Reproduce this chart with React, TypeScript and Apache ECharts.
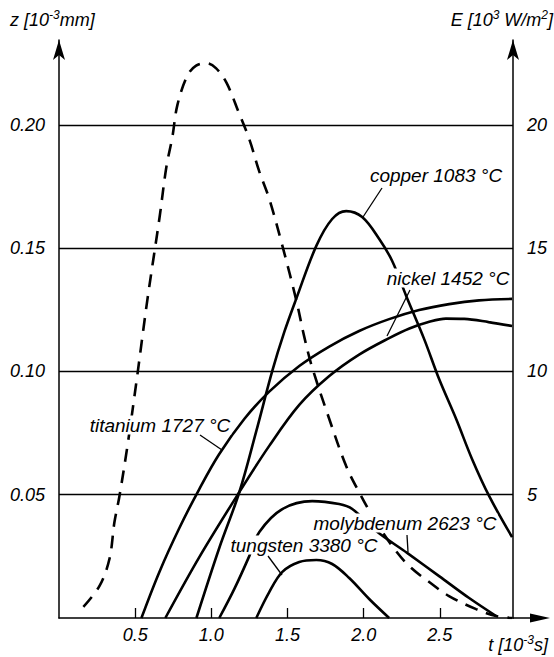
import React, { useEffect, useRef } from "react";
import * as echarts from "echarts";

// Axis ticks
const xTicks = [0.5, 1.0, 1.5, 2.0, 2.5];
const zTicks = [0.05, 0.1, 0.15, 0.2];
const eTicks = [5, 10, 15, 20];
const X_MAX = 2.98;
const Z_MAX = 0.2344;
const E_MAX = 23.44;

// Heat flux E [10^3 W/m^2] (dashed)
const fluxT = [0.16, 0.266, 0.331, 0.364, 0.397, 0.449, 0.508, 0.58, 0.659, 0.705, 0.744, 0.777, 0.843, 0.9, 0.967, 1.03, 1.1, 1.18, 1.25, 1.315, 1.38, 1.466, 1.557, 1.61, 1.66, 1.774, 1.885, 1.97, 2.069, 2.187, 2.298, 2.43, 2.56, 2.738, 2.869, 2.974];
const fluxE = [0.45, 1.3, 2.39, 3.89, 4.95, 6.97, 9.57, 12.9, 16.2, 18.3, 19.5, 20.8, 22.0, 22.4, 22.5, 22.3, 21.7, 20.5, 19.4, 18.1, 17.0, 15.1, 12.9, 11.4, 10.2, 8.07, 6.16, 5.1, 4.01, 2.92, 2.11, 1.46, 0.89, 0.36, 0.08, 0];

// Melt depth z [10^-3 mm]
const titaniumT = [0.541, 0.659, 0.79, 0.921, 1.052, 1.216, 1.38, 1.577, 1.774, 1.97, 2.167, 2.364, 2.561, 2.757, 2.974];
const titaniumZ = [0, 0.0187, 0.0365, 0.0523, 0.0665, 0.0807, 0.0918, 0.1022, 0.1101, 0.1164, 0.1212, 0.1249, 0.1273, 0.1288, 0.1294];

const nickelT = [0.698, 0.921, 1.184, 1.38, 1.577, 1.774, 1.97, 2.167, 2.3, 2.42, 2.54, 2.66, 2.82, 2.974];
const nickelZ = [0, 0.0247, 0.0511, 0.0698, 0.0864, 0.0981, 0.1068, 0.1135, 0.1174, 0.1199, 0.1214, 0.1213, 0.12, 0.1184];

const copperT = [0.902, 1.052, 1.184, 1.295, 1.4, 1.479, 1.557, 1.689, 1.793, 1.885, 1.99, 2.102, 2.187, 2.279, 2.397, 2.495, 2.607, 2.711, 2.823, 2.974];
const copperZ = [0, 0.0284, 0.0511, 0.0758, 0.1002, 0.116, 0.1294, 0.1509, 0.1618, 0.165, 0.1626, 0.1537, 0.1448, 0.1306, 0.1131, 0.0969, 0.0807, 0.0645, 0.0495, 0.0328];

const molybdenumT = [1.052, 1.151, 1.249, 1.315, 1.466, 1.662, 1.839, 1.925, 2.082, 2.285, 2.495, 2.692, 2.869];
const molybdenumZ = [0, 0.0118, 0.0251, 0.0349, 0.0442, 0.0474, 0.0462, 0.0442, 0.0353, 0.0264, 0.017, 0.0081, 0.0008];

const tungstenT = [1.295, 1.38, 1.466, 1.577, 1.689, 1.793, 1.905, 2.036, 2.167];
const tungstenZ = [0, 0.0105, 0.0187, 0.0227, 0.0235, 0.0219, 0.0162, 0.0077, 0];

const curveLabels = ["copper 1083 °C", "nickel 1452 °C", "titanium 1727 °C", "tungsten 3380 °C", "molybdenum 2623 °C"];

const zip = (a: number[], b: number[]) => a.map((v, i) => [v, b[i]]);

const FONT = "'Liberation Sans', Arial, sans-serif";

export default function App() {
  const ref = useRef<HTMLDivElement>(null);
  useEffect(() => {
    document.body.style.margin = "0";
    if (!ref.current) return;
    const chart = echarts.init(ref.current, undefined, { renderer: "svg" });
    const solid = (name: string, data: number[][], extra: any = {}) => ({
      name,
      type: "line",
      data,
      smooth: 0.35,
      symbol: "none",
      yAxisIndex: 0,
      lineStyle: { color: "#000", width: 2.6 },
      z: 3,
      ...extra,
    });
    const textStyle = { fontFamily: FONT, fontStyle: "italic", fontSize: 19, fill: "#000" };
    const label = (text: string, x: number, y: number) => ({
      type: "text",
      x,
      y,
      z: 100,
      style: {
        ...textStyle,
        text,
        align: "center",
        verticalAlign: "middle",
        backgroundColor: "#fff",
        padding: [0, 1],
        lineHeight: 19,
      },
    });
    const leader = (x1: number, y1: number, x2: number, y2: number) => ({
      type: "line",
      z: 101,
      shape: { x1, y1, x2, y2 },
      style: { stroke: "#000", lineWidth: 1.3 },
    });
    const axisName = (text: string, x: number, y: number, align: string) => ({
      type: "text",
      x,
      y,
      z: 100,
      style: {
        text,
        align,
        verticalAlign: "middle",
        rich: {
          a: { fontFamily: FONT, fontStyle: "italic", fontSize: 18, lineHeight: 22, fill: "#000", color: "#000" },
          s: { fontFamily: FONT, fontStyle: "italic", fontSize: 12, lineHeight: 10, verticalAlign: "top", fill: "#000", color: "#000" },
        },
      },
    });
    const axisLabelStyle = { fontFamily: FONT, fontStyle: "italic", fontSize: 18, color: "#000" };
    chart.setOption({
      animation: false,
      backgroundColor: "#fff",
      grid: { left: 59, right: 41, top: 40, bottom: 39 },
      xAxis: {
        type: "value",
        min: 0,
        max: X_MAX,
        interval: 0.5,
        axisLine: { show: true, lineStyle: { color: "#000", width: 1.5 } },
        axisTick: { show: true, inside: true, length: 10, lineStyle: { color: "#000", width: 1.3 } },
        axisLabel: {
          ...axisLabelStyle,
          margin: 8,
          showMinLabel: false,
          showMaxLabel: false,
          formatter: (v: number) => (xTicks.some((t) => Math.abs(t - v) < 1e-6) ? v.toFixed(1) : ""),
        },
        splitLine: { show: false },
      },
      yAxis: [
        {
          type: "value",
          min: 0,
          max: Z_MAX,
          interval: 0.05,
          position: "left",
          axisLine: { show: true, symbol: ["none", "arrow"], symbolSize: [9, 20], lineStyle: { color: "#000", width: 1.5 } },
          axisTick: { show: false },
          axisLabel: {
            ...axisLabelStyle,
            margin: 14,
            showMinLabel: false,
            showMaxLabel: false,
            formatter: (v: number) => (zTicks.some((t) => Math.abs(t - v) < 1e-6) ? v.toFixed(2) : ""),
          },
          splitLine: { show: false },
        },
        {
          type: "value",
          min: 0,
          max: E_MAX,
          interval: 5,
          position: "right",
          axisLine: { show: true, symbol: ["none", "arrow"], symbolSize: [9, 20], lineStyle: { color: "#000", width: 1.5 } },
          axisTick: { show: false },
          axisLabel: {
            ...axisLabelStyle,
            margin: 14,
            showMinLabel: false,
            showMaxLabel: false,
            formatter: (v: number) => (eTicks.some((t) => Math.abs(t - v) < 1e-6) ? String(v) : ""),
          },
          splitLine: { show: false },
        },
      ],
      series: [
        {
          name: "grid",
          type: "line",
          data: [],
          symbol: "none",
          markLine: {
            silent: true,
            symbol: "none",
            label: { show: false },
            lineStyle: { color: "#000", width: 1.4, type: "solid" },
            data: zTicks.map((v) => [{ coord: [0, v] }, { coord: [X_MAX, v] }]),
          },
        },
        {
          name: "E",
          type: "line",
          yAxisIndex: 1,
          data: zip(fluxT, fluxE),
          smooth: 0.35,
          symbol: "none",
          lineStyle: { color: "#000", width: 2.6, type: [13, 9] },
          z: 3,
        },
        solid("titanium", zip(titaniumT, titaniumZ)),
        solid("nickel", zip(nickelT, nickelZ)),
        solid("copper", zip(copperT, copperZ)),
        solid("molybdenum", zip(molybdenumT, molybdenumZ)),
        solid("tungsten", zip(tungstenT, tungstenZ)),
      ],
      graphic: [
        label(curveLabels[0], 436, 175),
        label(curveLabels[1], 448, 278),
        label(curveLabels[2], 160, 425),
        label(curveLabels[3], 304, 545),
        label(curveLabels[4], 405, 523),
        leader(382, 188, 363, 217),
        leader(410, 290, 387, 336),
        leader(200, 435, 222, 450),
        leader(268, 556, 282, 575),
        leader(407, 535, 408, 552),
        axisName("{a|z [10}{s|-3}{a|mm]}", 10, 20, "left"),
        axisName("{a|E [10}{s|3}{a| W/m}{s|2}{a|]}", 553, 20, "right"),
        axisName("{a|t [10}{s|-3}{a|s]}", 548, 645, "right"),
        {
          type: "line",
          z: 100,
          shape: { x1: 513, y1: 618, x2: 540, y2: 618 },
          style: { stroke: "#000", lineWidth: 1.5 },
        },
        {
          type: "polygon",
          z: 100,
          shape: { points: [[530, 613.5], [550, 618], [530, 622.5]] },
          style: { fill: "#000" },
        },
      ],
    });
    return () => chart.dispose();
  }, []);
  return <div ref={ref} style={{ position: "absolute", left: 0, top: 0, width: 554, height: 657 }} />;
}
